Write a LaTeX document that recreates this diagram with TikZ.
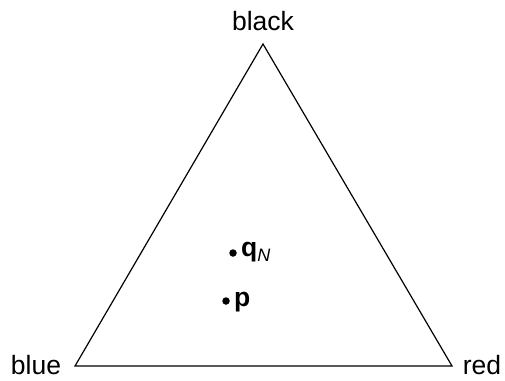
\documentclass[tikz,border=0pt]{standalone}
\usepackage{fontspec}
\setmainfont{Liberation Sans}
\begin{document}
\begin{tikzpicture}[x=1pt,y=-1pt,
  lbl/.style={font=\fontsize{26.5}{26.5}\selectfont, inner sep=0pt},
  dot/.style={circle, fill=black, inner sep=0pt, minimum size=7.5pt},
  edge/.style={draw=black, line width=1.2pt, line join=miter}]
\useasboundingbox (0,0) rectangle (505,380);
\coordinate (top) at (263,44);
\coordinate (bl) at (75,366);
\coordinate (br) at (452,366);
\draw[edge] (top) -- (bl) -- (br) -- cycle;
\node[lbl, anchor=base] (black) at (263,30) {black};
\node[lbl, anchor=base] (blue) at (36,374.5) {blue};
\node[lbl, anchor=base] (red) at (482,374.5) {red};
\node[dot] (q) at (233,253) {};
\node[dot] (p) at (226,301) {};
\node[lbl, anchor=west, xshift=4pt, yshift=1pt] (qlab) at (q.east) {\textbf{q}\raisebox{-0.35ex}{\fontsize{18}{18}\selectfont\itshape N}};
\node[lbl, anchor=west, xshift=4pt, yshift=-1pt] (plab) at (p.east) {\textbf{p}};
\end{tikzpicture}
\end{document}
